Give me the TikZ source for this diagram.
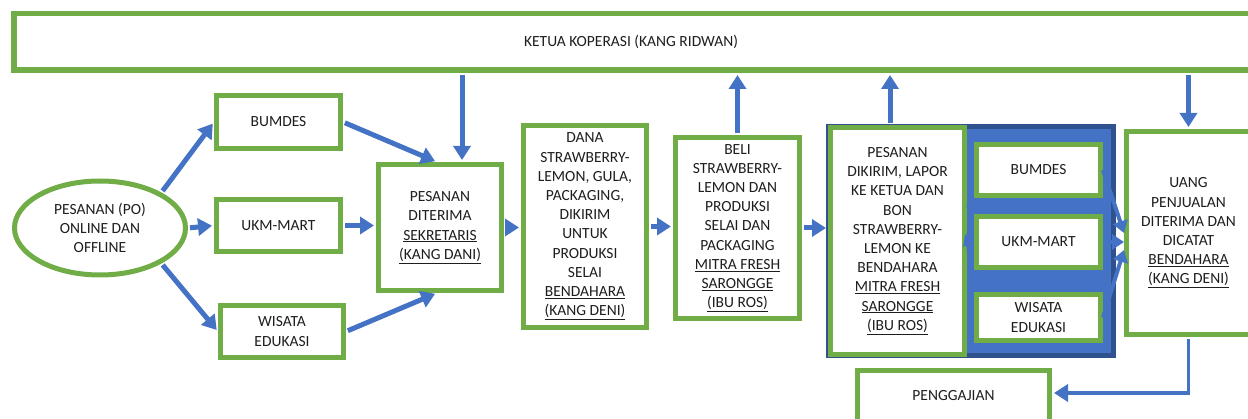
\documentclass[tikz,border=0pt]{standalone}
\usepackage{fontspec}
\setmainfont{Carlito}
\usetikzlibrary{arrows.meta,shapes.geometric,calc}
\definecolor{grn}{HTML}{70AD47}
\definecolor{blu}{HTML}{4472C4}
\definecolor{dblu}{HTML}{2F528F}
\definecolor{txt}{HTML}{1E1E1E}
\begin{document}
\begin{tikzpicture}[x=1pt,y=-1pt,
 box/.style={draw=grn,line width=5pt,fill=white,inner sep=0pt,align=center,text=txt,font=\fontsize{15.5}{19.2}\selectfont},
 arr/.style={draw=blu,line width=5pt,-{Triangle[width=17pt,length=14pt]},shorten >=2pt,shorten <=2pt},
 parr/.style={draw=blu,line width=4pt,-{Triangle[width=15pt,length=12pt]}},
 sarr/.style={draw=blu,line width=3pt,-{Triangle[width=12pt,length=10pt]}},
]
\useasboundingbox (0,0) rectangle (1248,419);
% top box
\node[box,line width=5.5pt,minimum width=1236.5pt,minimum height=56.5pt] (ketua) at (632,42) {\hspace*{-2pt}KETUA KOPERASI (KANG RIDWAN)};
% left column
\node[box,ellipse,minimum width=171pt,minimum height=94pt] (ell) at (100,228) {PESANAN (PO)\\ONLINE DAN\\OFFLINE};
\node[box,minimum width=124pt,minimum height=53pt] (bum1) at (278.5,122) {BUMDES};
\node[box,minimum width=124pt,minimum height=52pt] (ukm1) at (278.5,225.5) {UKM-MART};
\node[box,minimum width=123pt,minimum height=52pt] (wis1) at (282,331.5) {WISATA\\EDUKASI};
\node[box,minimum width=123pt,minimum height=126pt] (pdt) at (440,227.5) {PESANAN\\DITERIMA\\\underline{SEKRETARIS}\\\underline{(KANG DANI)}};
\node[box,minimum width=123pt,minimum height=202pt] (dana) at (585,226.5) {DANA\\STRAWBERRY-\\LEMON, GULA,\\PACKAGING,\\DIKIRIM\\UNTUK\\PRODUKSI\\SELAI\\\underline{BENDAHARA}\\\underline{(KANG DENI)}};
\node[box,minimum width=124pt,minimum height=181pt] (beli) at (737.5,228) {BELI\\STRAWBERRY-\\LEMON DAN\\PRODUKSI\\SELAI DAN\\PACKAGING\\\underline{MITRA FRESH}\\\underline{SARONGGE}\\\underline{(IBU ROS)}};
% panel
\draw[draw=dblu,fill=blu,line width=5pt] (828.5,126.5) rectangle (1113.5,355.5);
\node[box,minimum width=134pt,minimum height=227pt] (kirim) at (897.5,241) {PESANAN\\DIKIRIM, LAPOR\\KE KETUA DAN\\BON\\STRAWBERRY-\\LEMON KE\\BENDAHARA\\\underline{MITRA FRESH}\\\underline{SARONGGE}\\\underline{(IBU ROS)}};
\node[box,minimum width=124pt,minimum height=51pt] (bum2) at (1038.5,170) {BUMDES};
\node[box,minimum width=124pt,minimum height=51pt] (ukm2) at (1038.5,242) {UKM-MART};
\node[box,minimum width=124pt,minimum height=46pt] (wis2) at (1038.5,317.5) {WISATA\\EDUKASI};
\node[box,minimum width=124pt,minimum height=203pt] (uang) at (1188.5,233) {UANG\\PENJUALAN\\DITERIMA DAN\\DICATAT\\\underline{BENDAHARA}\\\underline{(KANG DENI)}};
\node[box,minimum width=192pt,minimum height=51pt] (gaji) at (953.5,396) {PENGGAJIAN};
% connectors
\draw[arr] (ell.30) -- (bum1.west);
\draw[arr] (ell.east) -- (ukm1.west);
\draw[arr] (ell.-30) -- (wis1.west);
\draw[arr] (bum1.east) -- ([xshift=-3pt]pdt.north);
\draw[arr] (ukm1.east) -- (ukm1.east -| pdt.west);
\draw[arr] (wis1.east) -- ([xshift=-3pt]pdt.south);
\coordinate (p1) at ([xshift=22pt]pdt.north);
\draw[arr] (p1 |- ketua.south) -- (p1);
\draw[arr] (pdt.east) -- (pdt.east -| dana.west);
\draw[arr] (dana.east) -- (dana.east -| beli.west);
\draw[arr] (beli.north) -- (beli.north |- ketua.south);
\draw[arr] (beli.east) -- (beli.east -| kirim.west);
\coordinate (p2) at ([xshift=-7.5pt]kirim.north);
\draw[arr] (p2) -- (p2 |- ketua.south);
\draw[arr] (uang.north |- ketua.south) -- (uang.north);
\draw[arr,line width=3.5pt] (uang.south) |- ([yshift=3pt]gaji.east);
% panel arrows
\draw[sarr] (kirim.east) -- (bum2.south west);
\draw[sarr] (kirim.east) -- (ukm2.west);
\draw[sarr] (kirim.east) -- (wis2.north west);
\draw[parr] (bum2.east) -- (uang.west);
\draw[parr] (ukm2.east) -- ([yshift=-9pt]uang.west);
\draw[parr] (wis2.east) -- ([yshift=-17pt]uang.west);
\end{tikzpicture}
\end{document}
